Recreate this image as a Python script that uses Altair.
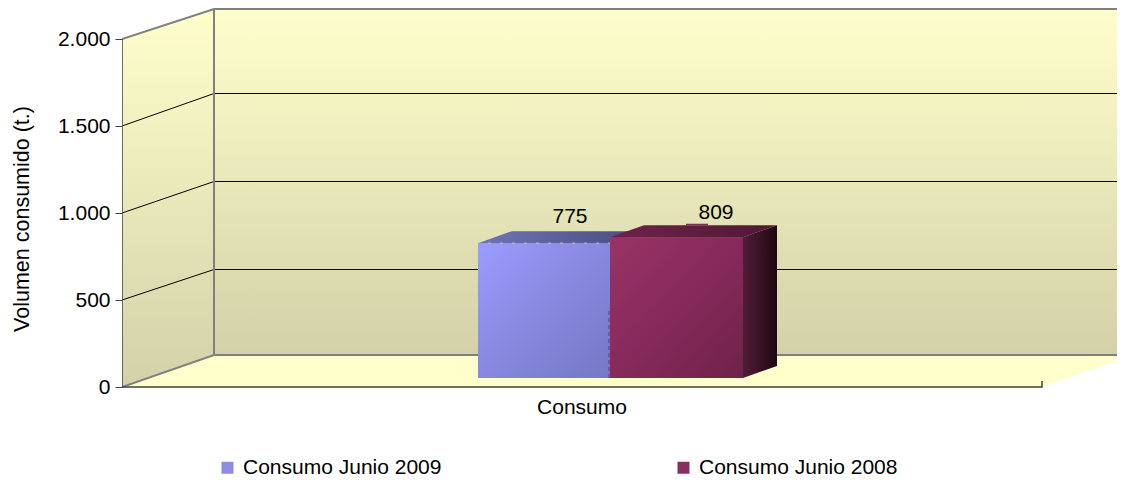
import altair as alt
import pandas as pd

series = ["Consumo Junio 2009", "Consumo Junio 2008"]
values = [775, 809]
solid_colors = ["#8C8CE6", "#8A2E5E"]
y_ticks = [0, 500, 1000, 1500, 2000]
category = "Consumo"
y_title = "Volumen consumido (t.)"

FONT = "Liberation Sans"
PX = 0.174            # pixels per unit of the value axis
X0, X1 = 122, 1117    # horizontal domain
W, H = X1 - X0, 473
Y_TOP = (387 - 8) / PX
Y_BOT = (387 - 481) / PX
DX, DYV = 92, 32 / PX  # wall depth in x and in value units
FRONT_RIGHT = 1042
FS = 21


def lift(px):
    return px / PX


WALL_TOP = 2000 + DYV - lift(2)   # kept just inside the drawing area


def grad(stops, x2=0, y2=1):
    return alt.Gradient(
        gradient="linear", x1=0, y1=0, x2=x2, y2=y2,
        stops=[alt.GradientStop(color=c, offset=o) for o, c in stops],
    )


XS = alt.X("x:Q", scale=alt.Scale(domain=[X0, X1], nice=False, zero=False), axis=None)
YS = alt.Y(
    "y:Q",
    scale=alt.Scale(domain=[Y_BOT, Y_TOP], nice=False, zero=False),
    axis=alt.Axis(
        values=y_ticks, grid=False, domain=False, tickSize=7, tickColor="#404040",
        labelFont=FONT, labelFontSize=21, labelColor="#000000", labelPadding=5,
        labelExpr="replace(format(datum.value, ','), ',', '.')",
        title=y_title, titleFont=FONT, titleFontSize=21.5, titleFontWeight="normal",
        titleColor="#000000", titleX=-100, titleY=210.5, titleAlign="center",
        titleBaseline="middle", titleAngle=270,
    ),
)


def vface(pts, fill):
    """area with vertical sides: pts = (x, top, bottom)"""
    df = pd.DataFrame(pts, columns=["x", "y", "y2"])
    return alt.Chart(df).mark_area(color=fill, clip=True, line=False).encode(XS, YS, y2="y2:Q")


def hface(pts, fill):
    """area with horizontal sides: pts = (value, left, right)"""
    df = pd.DataFrame(pts, columns=["y", "x", "x2"])
    return alt.Chart(df).mark_area(color=fill, orient="horizontal", clip=True).encode(YS, XS, x2="x2:Q")


def seg(pts, color, width=1, dash=None):
    df = pd.DataFrame(pts, columns=["x", "y"])
    df["o"] = range(len(df))
    kw = {"strokeDash": dash} if dash else {}
    return alt.Chart(df).mark_line(color=color, strokeWidth=width, clip=True, **kw).encode(XS, YS, order="o:Q")


WALL = [(0, "#FFFFCC"), (1, "#D2D1A8")]
layers = []

# floor, walls
layers.append(hface([(0, X0, FRONT_RIGHT), (DYV, X0 + DX, FRONT_RIGHT + DX)], "#FFFFCC"))
layers.append(vface([(X0, 2000, 0), (X0 + DX, WALL_TOP, DYV)], grad(WALL)))
layers.append(vface([(X0 + DX, WALL_TOP, DYV), (X1, WALL_TOP, DYV)], grad(WALL)))

# gridlines (half-pixel nudges keep them one crisp pixel wide)
grid_nudge = {500: -1.5, 1000: -0.5, 1500: 0.5}
for t in y_ticks[1:-1]:
    back = t + DYV + lift(grid_nudge[t])
    layers.append(seg([(X0, t), (X0 + DX, back), (X1, back)], "#000000", 1))

# wall borders
layers.append(seg([(X0, 2000), (X0 + DX, WALL_TOP), (X1, WALL_TOP)], "#808080", 2))
layers.append(seg([(X0 + DX, WALL_TOP), (X0 + DX, DYV)], "#808080", 2))
layers.append(seg([(X0, 0), (X0 + DX, DYV), (X1, DYV)], "#808080", 2))

# axis lines
layers.append(seg([(X0, 0), (X0, 2000)], "#404040", 1.5))
layers.append(seg([(X0, 0), (FRONT_RIGHT, 0), (FRONT_RIGHT, lift(6))], "#404040", 1.5))

# the bars
bar_left = [478, 610]
bar_right = [610, 743]
base = lift(9)
depth_x, depth_v = 34, lift(12)
bars = pd.DataFrame({
    "x": bar_left, "x2": bar_right, "y": [v + base for v in values],
    "y2": [base, base], "serie": series,
})
color = alt.Color(
    "serie:N",
    scale=alt.Scale(domain=series, range=solid_colors),
    sort=None,
    legend=alt.Legend(
        title=None, orient="none", legendX=95, legendY=449, direction="horizontal",
        columns=2, columnPadding=231, symbolType="square", symbolSize=144,
        symbolStrokeWidth=0, labelFont=FONT, labelFontSize=FS, labelColor="#000000",
        labelOffset=5, symbolOpacity=1, labelLimit=300,
    ),
)
layers.append(alt.Chart(bars).mark_rect(strokeWidth=0).encode(XS, alt.X2("x2:Q"), YS, alt.Y2("y2:Q"), color=color))

face = [
    grad([(0, "#9C9CFF"), (0.55, "#8686DC"), (1, "#7777C6")], x2=1, y2=1),
    grad([(0, "#993366"), (0.55, "#84295A"), (1, "#6E2248")], x2=1, y2=1),
]
top = [
    grad([(0, "#6F74B8"), (1, "#474C7E")], x2=1, y2=0),
    grad([(0, "#6E2248"), (1, "#4F1A35")], x2=1, y2=0),
]
for i, v in enumerate(values):
    l, r, t = bar_left[i], bar_right[i], v + base
    layers.append(hface([(t, l, r), (t + depth_v, l + depth_x, r + depth_x)], top[i]))
    layers.append(
        alt.Chart(bars.iloc[[i]]).mark_rect(color=face[i], strokeWidth=0)
        .encode(XS, alt.X2("x2:Q"), YS, alt.Y2("y2:Q"))
    )
layers.append(vface(
    [(bar_right[1], values[1] + base, base),
     (bar_right[1] + depth_x, values[1] + base + depth_v, base + depth_v)],
    grad([(0, "#521C38"), (1, "#1E0812")], x2=1, y2=0),
))

# fine seams seen on the bars
layers.append(seg([(bar_left[0] + 10, values[0] + base), (bar_right[0], values[0] + base)],
                  "#C9C9A0", 1, [3, 9]))
layers.append(seg([(bar_left[1] - 1, base), (bar_left[1] - 1, values[0] * 0.52 + base)],
                  "#8A2E5E", 1, [4, 3]))
layers.append(hface([(values[1] + base + depth_v, 686, 708),
                     (values[1] + base + depth_v + lift(1.5), 686, 708)], "#7A2E55"))

# data labels
label_dx = [92, 106]
label_rise = [27, 25]
labels = pd.DataFrame({
    "x": [bar_left[i] + label_dx[i] for i in range(2)],
    "y": [values[i] + base + lift(label_rise[i]) for i in range(2)],
    "t": [str(v) for v in values],
})
layers.append(
    alt.Chart(labels).mark_text(font=FONT, fontSize=FS, color="#000000", align="center", baseline="middle", dy=1)
    .encode(XS, YS, text="t:N")
)

# category label
layers.append(
    alt.Chart(pd.DataFrame({"x": [582], "y": [lift(-21)], "t": [category]}))
    .mark_text(font=FONT, fontSize=FS, color="#000000", align="center", baseline="middle")
    .encode(XS, YS, text="t:N")
)

chart = alt.layer(*layers).properties(
    width=W, height=H,
    padding={"left": 114, "top": 0, "right": 0, "bottom": 0},
    autosize=alt.AutoSizeParams(type="none"),
    background="#FFFFFF",
).configure_view(stroke=None)

chart.save("out.html", embed_options={"renderer": "svg", "actions": False})
